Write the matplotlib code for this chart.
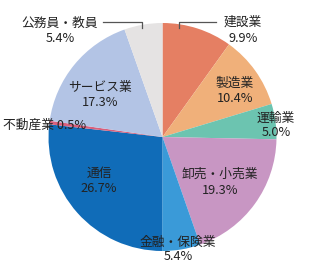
import matplotlib.pyplot as plt

plt.rcParams['font.family'] = ['Noto Sans CJK JP', 'DejaVu Sans']

labels = ['建設業', '製造業', '運輸業', '卸売・小売業', '金融・保険業', '通信', '不動産業', 'サービス業', '公務員・教員']
shares = [9.9, 10.4, 5.0, 19.3, 5.4, 26.7, 0.5, 17.3, 5.4]
colors = ['#e57f63', '#f0b07a', '#6cc4b0', '#c896c3', '#3a9ad8',
          '#106cb8', '#d9607c', '#b3c4e5', '#e5e3e3']

W, H = 320, 267
fig = plt.figure(figsize=(W / 100, H / 100), dpi=100)
ax = fig.add_axes([0, 0, 1, 1])
ax.set_xlim(0, W)
ax.set_ylim(0, H)
ax.set_aspect('equal')
ax.axis('off')

cx, cy, r = 162.5, H - 137, 114
ax.pie(shares, colors=colors, startangle=90, counterclock=False,
       center=(cx, cy), radius=r, wedgeprops=dict(linewidth=0))
ax.set_xlim(0, W)
ax.set_ylim(0, H)

# label positions in pixels from top-left (x, y of label line, y of value line)
pos = {
    '建設業': (243, 22, 38),
    '製造業': (235, 83, 99),
    '運輸業': (276, 118, 133),
    '卸売・小売業': (220, 174, 190),
    '金融・保険業': (178, 242, 257),
    '通信': (99, 173, 188),
    'サービス業': (100, 87, 102),
    '公務員・教員': (60, 23, 39),
}
fs = 9.2
for lab, val in zip(labels, shares):
    if lab in pos:
        x, y1, y2 = pos[lab]
        ax.text(x, H - y1, lab, ha='center', va='center', fontsize=fs, color='#222222')
        ax.text(x, H - y2, f'{val:.1f}%', ha='center', va='center', fontsize=fs, color='#222222')
    else:
        ax.text(3, H - 125, f'{lab} {val:.1f}%', ha='left', va='center', fontsize=fs, color='#222222')

# leader lines
ax.plot([103, 142, 142], [H - 22, H - 22, H - 28], color='#555555', lw=0.9)
ax.plot([216, 179, 179], [H - 22, H - 22, H - 28], color='#555555', lw=0.9)

fig.savefig('out.png', dpi=100)
